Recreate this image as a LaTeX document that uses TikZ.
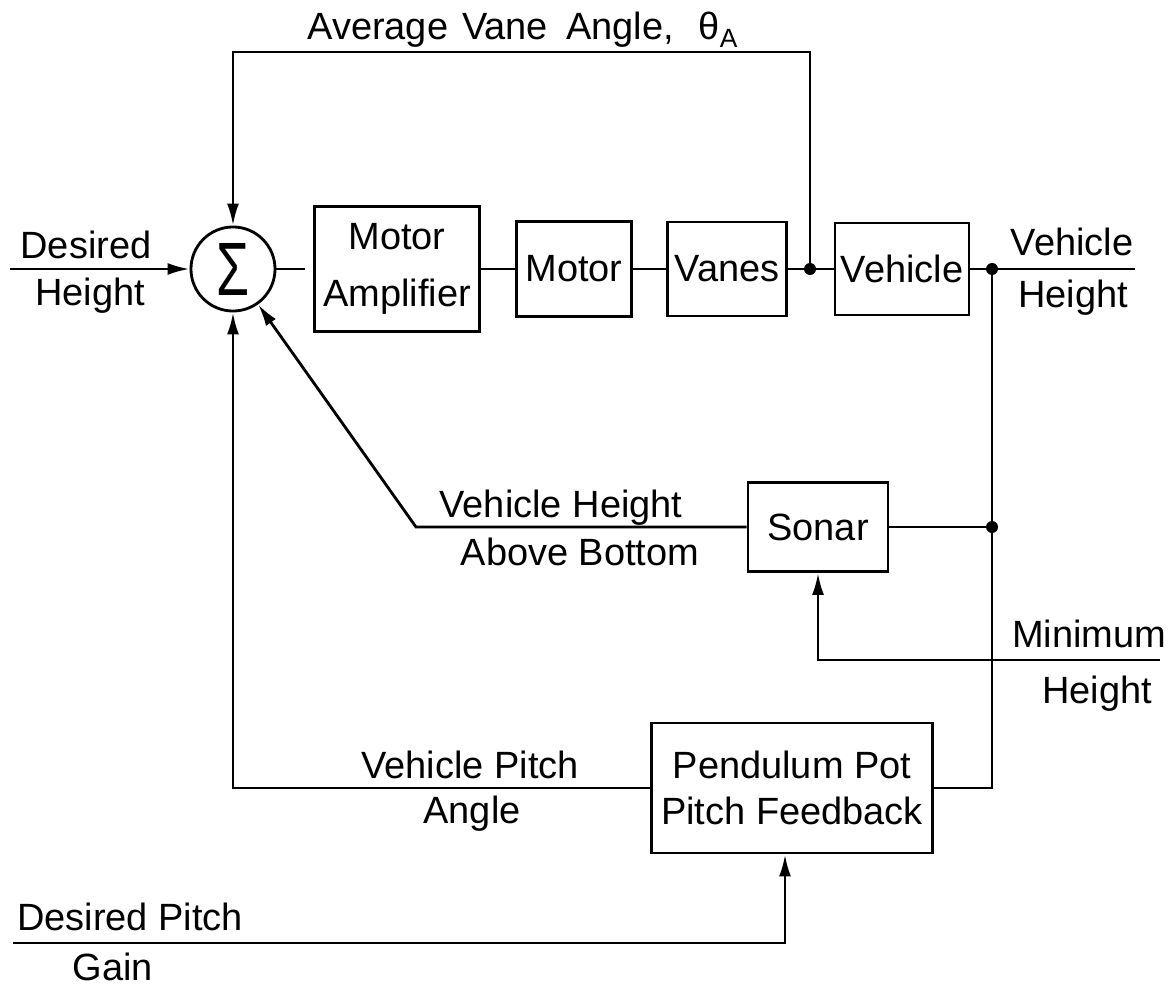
\documentclass[tikz,border=0pt]{standalone}
\usepackage{fontspec}
\setmainfont{Liberation Sans}
\usepackage{graphicx}
\usetikzlibrary{arrows.meta}
\newcommand{\lblfont}{\fontsize{10.8pt}{13pt}\selectfont}
\begin{document}
\begin{tikzpicture}[x=0.01cm,y=-0.01cm, line width=0.8pt,
  blk/.style={draw, rectangle, inner sep=0pt, align=center, font=\lblfont},
  lbl/.style={font=\lblfont, inner sep=0pt, anchor=base},
  arr/.style={-{Latex[length=2.2mm,width=1.2mm]}},
  jdot/.style={circle, fill, inner sep=0pt, minimum size=1.2mm}]
\useasboundingbox (0,0) rectangle (1174,988);

% blocks
\node[draw, circle, minimum size=0.84cm, inner sep=0pt] (sum) at (233,269) {\resizebox{0.33cm}{0.52cm}{Σ}};
\node[blk, minimum width=1.65cm, minimum height=1.25cm, font=\fontsize{10.8pt}{16.2pt}\selectfont] (amp) at (397,269) {Motor\\Amplifier};
\node[blk, minimum width=1.15cm, minimum height=0.95cm] (motor) at (574,269) {Motor};
\node[blk, minimum width=1.19cm, minimum height=0.94cm] (vanes) at (727,269) {Vanes};
\node[blk, minimum width=1.34cm, minimum height=0.92cm] (vehicle) at (902,269) {Vehicle};
\node[blk, minimum width=1.40cm, minimum height=0.89cm] (sonar) at (818,527) {Sonar};
\node[blk, minimum width=2.81cm, minimum height=1.30cm] (pend) at (792,788) {Pendulum Pot\\Pitch Feedback};

% junctions and free ends
\node[jdot] (j1) at (810,269) {};
\node[jdot] (j2) at (992,269) {};
\node[jdot] (j3) at (992,527) {};
\coordinate (inL) at (10,269);
\coordinate (outR) at (1135,269);
\coordinate (tr) at (810,52);
\coordinate (br) at (992,788);
\coordinate (dg) at (416,527);
\coordinate (minR) at (1160,660);
\coordinate (dpL) at (13,943);

% forward path
\draw[arr] (inL) -- (sum.west);
\draw[shorten >=0.08cm] (sum.east) -- (amp.west);
\draw (amp.east) -- (motor.west);
\draw (motor.east) -- (vanes.west);
\draw (vanes.east) -- (vehicle.west);
\draw (vehicle.east) -- (outR);

% feedback paths
\draw[arr] (j1.center) -- (tr) -| (sum.north);
\draw (j2.center) -- (br) -- (pend.east);
\draw (sonar.east) -- (j3.center);
\draw[arr] (sonar.west) -- (dg) -- (sum);
\draw[arr] (minR) -| (sonar.south);
\draw[arr] (pend.west) -| (sum.south);
\draw[arr] (dpL) -| ([xshift=-0.07cm]pend.south);

% labels
\node[lbl, anchor=base west] (lavg) at (306,40) {Average\hspace{0.14cm}Vane\hspace{0.18cm}Angle,\hspace{0.25cm}θ\raisebox{-0.35ex}{\fontsize{7.5pt}{9pt}\selectfont A}};
\node[lbl] (ldes1) at (86,258) {Desired};
\node[lbl] (ldes2) at (90,305) {Height};
\node[lbl] (lvh1) at (1072,255) {Vehicle};
\node[lbl] (lvh2) at (1073,307) {Height};
\node[lbl] (lab1) at (561,517) {Vehicle Height};
\node[lbl] (lab2) at (580,565) {Above Bottom};
\node[lbl] (lmin1) at (1089,647) {Minimum};
\node[lbl] (lmin2) at (1097,703) {Height};
\node[lbl] (lpa1) at (470,778) {Vehicle Pitch};
\node[lbl] (lpa2) at (472,823) {Angle};
\node[lbl] (ldp1) at (130,930) {Desired Pitch};
\node[lbl] (ldp2) at (113,980) {Gain};
\end{tikzpicture}
\end{document}
